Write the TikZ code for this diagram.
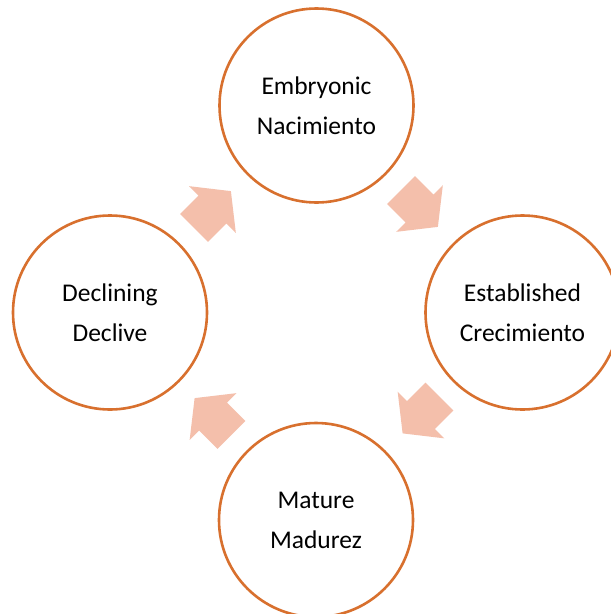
\documentclass[tikz,border=0pt]{standalone}
\usepackage{fontspec}
\setmainfont{Carlito}
\definecolor{ring}{HTML}{D8702E}
\definecolor{blockarrow}{HTML}{F4BFAB}
\tikzset{
  stage/.style={circle, draw=ring, line width=2.6pt, fill=white, minimum size=194pt, inner sep=0pt,
    align=center, font=\fontsize{25.5}{40}\selectfont, text=black},
  blockarr/.pic={\fill[blockarrow] (-26,19.7) -- (0,19.7) -- (0,33) -- (26,0) -- (0,-33) -- (0,-19.7) -- (-26,-19.7) -- cycle;}
}
\begin{document}
\begin{tikzpicture}[x=1pt,y=-1pt]
\useasboundingbox (0,0) rectangle (611,614);
\fill[white] (0,0) rectangle (611,614);
\node[stage] (emb) at (316.5,105.5) {Embryonic\\Nacimiento};
\node[stage] (est) at (522.5,312.5) {Established\\Crecimiento};
\node[stage] (mat) at (316,520) {Mature\\Madurez};
\node[stage] (dec) at (110,312.5) {Declining\\Declive};
\pic[shift={(212.5,209.5)}, rotate=45] {blockarr};
\pic[shift={(419.5,208.5)}, rotate=-45] {blockarr};
\pic[shift={(421,415)}, rotate=-135] {blockarr};
\pic[shift={(213,416.5)}, rotate=135] {blockarr};
\end{tikzpicture}
\end{document}
